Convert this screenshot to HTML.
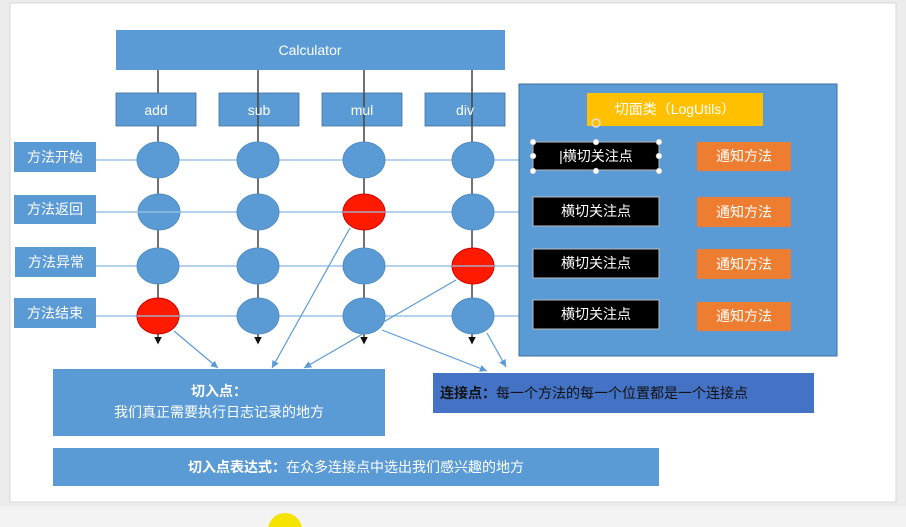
<!DOCTYPE html>
<html><head><meta charset="utf-8"><style>
body{margin:0;width:906px;height:527px;overflow:hidden;background:#eeeeee;font-family:"Liberation Sans","Noto Sans CJK SC",sans-serif}
</style></head><body>
<svg width="906" height="527" xmlns="http://www.w3.org/2000/svg" style="position:absolute;left:0;top:0" font-family="Liberation Sans, Noto Sans CJK SC, sans-serif">
<defs>
<marker id="a" markerWidth="8" markerHeight="8" refX="6" refY="3" orient="auto"><path d="M0,0 L6,3 L0,6 z" fill="#5b9bd5"/></marker>
<marker id="b" markerWidth="6" markerHeight="6" refX="4" refY="2.5" orient="auto"><path d="M0,0 L5,2.5 L0,5 z" fill="#111"/></marker>
</defs>
<rect x="0" y="0" width="906" height="527" fill="#ececec"/>
<rect x="10" y="3" width="886" height="499" fill="#fff" stroke="#d8d8d8"/>
<rect x="0" y="506" width="906" height="21" fill="#f3f3f3"/>
<circle cx="285" cy="530" r="17" fill="#f5e400"/>
<!-- horizontal lines -->
<g stroke="#9dc3e6" stroke-width="1.5">
<line x1="96" y1="160" x2="519" y2="160"/><line x1="96" y1="212" x2="519" y2="212"/>
<line x1="96" y1="266" x2="519" y2="266"/><line x1="96" y1="316" x2="519" y2="316"/>
</g>
<!-- vertical lines -->
<g stroke="#444" stroke-width="1.5" marker-end="url(#b)">
<line x1="158" y1="70" x2="158" y2="343"/><line x1="258" y1="70" x2="258" y2="343"/>
<line x1="364" y1="70" x2="364" y2="343"/><line x1="472" y1="70" x2="472" y2="343"/>
</g>
<rect x="116" y="30" width="389" height="40" fill="#5b9bd5"/>
<text x="310" y="55" fill="#fff" font-size="14" text-anchor="middle">Calculator</text>
<g fill="#5b9bd5" stroke="#41719c" stroke-width="0.8">
<rect x="116" y="93" width="80" height="33"/><rect x="219" y="93" width="80" height="33"/>
<rect x="322" y="93" width="80" height="33"/><rect x="425" y="93" width="80" height="33"/>
</g>
<g stroke="#444" stroke-width="1.5"><line x1="258" y1="93" x2="258" y2="126"/><line x1="364" y1="93" x2="364" y2="126"/><line x1="472" y1="93" x2="472" y2="126"/></g>
<g fill="#fff" font-size="14" text-anchor="middle">
<text x="156" y="115">add</text><text x="259" y="115">sub</text><text x="362" y="115">mul</text><text x="465" y="115">div</text>
</g>
<g fill="#5b9bd5">
<rect x="14" y="142" width="82" height="30"/><rect x="14" y="195" width="82" height="29"/>
<rect x="15" y="247" width="81" height="30"/><rect x="14" y="298" width="82" height="30"/>
</g>
<g fill="#fff" font-size="14" text-anchor="middle">
<text x="55" y="162">方法开始</text><text x="55" y="214">方法返回</text><text x="56" y="267">方法异常</text><text x="55" y="318">方法结束</text>
</g>
<g fill="#5b9bd5" stroke="#4f8cc4">
<ellipse cx="158" cy="160" rx="21" ry="18"/><ellipse cx="258" cy="160" rx="21" ry="18"/><ellipse cx="364" cy="160" rx="21" ry="18"/><ellipse cx="473" cy="160" rx="21" ry="18"/>
<ellipse cx="159" cy="212" rx="21" ry="18"/><ellipse cx="258" cy="212" rx="21" ry="18"/><ellipse cx="473" cy="212" rx="21" ry="18"/>
<ellipse cx="158" cy="266" rx="21" ry="18"/><ellipse cx="258" cy="266" rx="21" ry="18"/><ellipse cx="364" cy="266" rx="21" ry="18"/>
<ellipse cx="258" cy="316" rx="21" ry="18"/><ellipse cx="364" cy="316" rx="21" ry="18"/><ellipse cx="473" cy="316" rx="21" ry="18"/>
</g>
<g fill="#ff1a00" stroke="#c00">
<ellipse cx="364" cy="212" rx="21" ry="18"/><ellipse cx="473" cy="266" rx="21" ry="18"/><ellipse cx="158" cy="316" rx="21" ry="18"/>
</g>
<g stroke="#9dc3e6" stroke-width="1.2"><line x1="137" y1="212" x2="180" y2="212"/><line x1="343" y1="212" x2="385" y2="212"/><line x1="452" y1="266" x2="494" y2="266"/><line x1="137" y1="316" x2="179" y2="316"/></g>
<!-- arrows -->
<g stroke="#5b9bd5" stroke-width="1.2" marker-end="url(#a)" fill="none">
<line x1="174" y1="331" x2="218" y2="368"/>
<line x1="350" y1="228" x2="272" y2="368"/>
<line x1="456" y1="280" x2="304" y2="368"/>
<line x1="382" y1="330" x2="487" y2="371"/>
<line x1="487" y1="333" x2="506" y2="367"/>
</g>
<!-- right panel -->
<rect x="519" y="84" width="318" height="272" fill="#5b9bd5" stroke="#41719c"/>
<rect x="587" y="93" width="176" height="33" fill="#ffc000"/>
<text x="675" y="114" fill="#fff" font-size="14" text-anchor="middle">切面类（LogUtils）</text>
<circle cx="596" cy="123" r="4" fill="#ffc000" stroke="#ddd" stroke-width="1.5"/>
<g fill="#000" stroke="#bbb" stroke-width="1">
<rect x="533" y="142" width="126" height="28"/><rect x="533" y="197" width="126" height="29"/>
<rect x="533" y="249" width="126" height="29"/><rect x="533" y="300" width="126" height="29"/>
</g>
<g fill="#fff" stroke="#999" stroke-width="0.5">
<circle cx="533" cy="142" r="3"/><circle cx="596" cy="142" r="3"/><circle cx="659" cy="142" r="3"/>
<circle cx="533" cy="156" r="3"/><circle cx="659" cy="156" r="3"/>
<circle cx="533" cy="171" r="3"/><circle cx="596" cy="171" r="3"/><circle cx="659" cy="171" r="3"/>
</g>
<g fill="#fff" font-size="14" text-anchor="middle">
<text x="596" y="161">|横切关注点</text><text x="596" y="216">横切关注点</text><text x="596" y="268">横切关注点</text><text x="596" y="319">横切关注点</text>
</g>
<g fill="#ed7d31">
<rect x="697" y="142" width="94" height="29"/><rect x="697" y="197" width="94" height="30"/>
<rect x="697" y="249" width="94" height="30"/><rect x="697" y="302" width="94" height="29"/>
</g>
<g fill="#fff" font-size="14" text-anchor="middle">
<text x="744" y="161">通知方法</text><text x="744" y="217">通知方法</text><text x="744" y="269">通知方法</text><text x="744" y="321">通知方法</text>
</g>
<!-- bottom -->
<rect x="53" y="369" width="332" height="67" fill="#5b9bd5"/>
<text x="219" y="396" fill="#fff" font-size="14" font-weight="bold" text-anchor="middle">切入点：</text>
<text x="219" y="417" fill="#fff" font-size="14" text-anchor="middle">我们真正需要执行日志记录的地方</text>
<rect x="433" y="373" width="381" height="40" fill="#4472c4"/>
<text x="440" y="398" fill="#111" font-size="14"><tspan font-weight="bold">连接点：</tspan>每一个方法的每一个位置都是一个连接点</text>
<rect x="53" y="448" width="606" height="38" fill="#5b9bd5"/>
<text x="356" y="472" fill="#fff" font-size="14" text-anchor="middle"><tspan font-weight="bold">切入点表达式：</tspan>在众多连接点中选出我们感兴趣的地方</text>
</svg>
</body></html>
